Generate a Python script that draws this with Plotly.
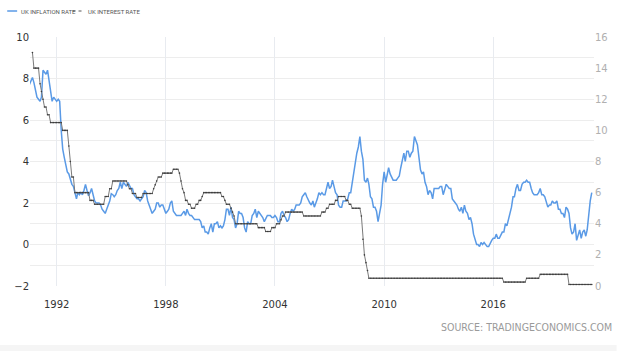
import pandas as pd
import plotly.graph_objects as go

# ---------------- data ----------------
inflation_start = "1990-07-01"
inflation = [
    7.7, 7.9, 8.05, 7.8, 7.4, 7.1,                                  # 1990 Jul-Dec
    7.0, 6.9, 7.1, 8.4, 8.3, 8.2, 8.4, 7.8, 7.3, 6.9, 7.1, 7.0,       # 1991
    6.9, 7.0, 6.9, 5.5, 4.6, 4.2, 3.8, 3.5, 3.4, 3.1, 2.9, 2.8,       # 1992
    2.5, 2.2, 2.5, 2.4, 2.5, 2.4, 2.6, 2.9, 2.6, 2.35, 2.5, 2.7,      # 1993
    2.4, 2.1, 2.0, 2.0, 2.0, 1.9, 1.7, 1.6, 1.5, 1.7, 1.9, 2.1,       # 1994
    2.45, 2.4, 2.3, 2.4, 2.6, 2.7, 3.0, 2.7, 3.0, 2.9, 2.8, 3.0,      # 1995
    2.8, 2.7, 2.7, 2.4, 2.3, 2.2, 2.2, 2.1, 2.2, 2.3, 2.6, 2.5,       # 1996
    2.1, 1.9, 1.7, 1.5, 1.6, 1.7, 2.0, 2.0, 1.8, 1.9, 1.9, 1.7,       # 1997
    1.5, 1.6, 1.7, 2.0, 2.1, 1.6, 1.5, 1.4, 1.4, 1.4, 1.4, 1.5,       # 1998
    1.6, 1.4, 1.7, 1.5, 1.4, 1.4, 1.3, 1.2, 1.2, 1.2, 1.2, 1.1,       # 1999
    0.8, 0.9, 0.6, 0.6, 0.5, 0.8, 1.0, 0.6, 1.0, 1.0, 1.1, 0.8,       # 2000
    0.9, 0.8, 0.9, 1.2, 1.7, 1.7, 1.4, 1.8, 1.3, 1.2, 0.8, 1.0,       # 2001
    1.6, 1.5, 1.5, 1.3, 0.8, 0.6, 1.1, 1.0, 1.0, 1.4, 1.5, 1.7,       # 2002
    1.3, 1.6, 1.5, 1.4, 1.3, 1.1, 1.3, 1.4, 1.4, 1.4, 1.3, 1.3,       # 2003
    1.4, 1.3, 1.1, 1.1, 1.5, 1.6, 1.4, 1.3, 1.1, 1.2, 1.5, 1.7,       # 2004
    1.6, 1.7, 1.9, 1.9, 1.9, 2.0, 2.3, 2.4, 2.5, 2.3, 2.1, 2.0,       # 2005
    1.9, 2.1, 1.8, 2.0, 2.2, 2.5, 2.4, 2.5, 2.4, 2.4, 2.7, 3.0,       # 2006
    2.7, 2.8, 3.1, 2.8, 2.5, 2.4, 1.9, 1.8, 1.8, 2.1, 2.1, 2.1,       # 2007
    2.2, 2.5, 2.5, 3.0, 3.3, 3.8, 4.4, 4.7, 5.2, 4.5, 4.1, 3.1,       # 2008
    3.0, 3.2, 2.9, 2.3, 2.2, 1.8, 1.8, 1.6, 1.1, 1.5, 1.9, 2.9,       # 2009
    3.5, 3.0, 3.4, 3.7, 3.4, 3.2, 3.1, 3.1, 3.1, 3.2, 3.3, 3.7,       # 2010
    4.0, 4.4, 4.0, 4.5, 4.5, 4.2, 4.4, 4.5, 5.2, 5.0, 4.8, 4.2,       # 2011
    3.6, 3.4, 3.5, 3.0, 2.8, 2.4, 2.6, 2.5, 2.2, 2.7, 2.7, 2.7,       # 2012
    2.7, 2.8, 2.8, 2.4, 2.7, 2.9, 2.8, 2.7, 2.7, 2.2, 2.1, 2.0,       # 2013
    1.9, 1.7, 1.6, 1.8, 1.5, 1.9, 1.6, 1.5, 1.2, 1.3, 1.0, 0.5,       # 2014
    0.3, 0.0, 0.0, -0.1, 0.1, 0.0, 0.1, 0.0, -0.1, -0.1, 0.1, 0.2,    # 2015
    0.3, 0.3, 0.5, 0.3, 0.3, 0.5, 0.6, 0.6, 1.0, 0.9, 1.2, 1.6,       # 2016
    1.8, 2.3, 2.3, 2.7, 2.9, 2.6, 2.6, 2.9, 3.0, 3.0, 3.1, 3.0,       # 2017
    3.0, 2.7, 2.5, 2.4, 2.4, 2.4, 2.5, 2.7, 2.4, 2.4, 2.3, 2.1,       # 2018
    1.8, 1.9, 1.9, 2.1, 2.0, 2.0, 2.1, 1.7, 1.7, 1.5, 1.5, 1.3,       # 2019
    1.8, 1.7, 1.5, 0.8, 0.5, 0.6, 1.0, 0.2, 0.5, 0.7, 0.3, 0.6,       # 2020
    0.7, 0.4, 0.7, 1.5, 2.1, 2.5,                                     # 2021 Jan-Jun
]

# Bank Rate: month in which a new level took effect, and that level
interest_change_months = [
    "1990-09", "1990-10", "1991-02", "1991-03", "1991-04", "1991-05", "1991-07",
    "1991-09", "1992-05", "1992-09", "1992-10", "1992-11", "1993-01", "1993-11",
    "1994-02", "1994-09", "1994-12", "1995-02", "1995-12", "1996-01", "1996-03",
    "1996-06", "1996-10", "1997-05", "1997-06", "1997-07", "1997-08", "1997-11",
    "1998-06", "1998-10", "1998-11", "1998-12", "1999-01", "1999-02", "1999-04",
    "1999-06", "1999-09", "1999-11", "2000-01", "2000-02", "2001-02", "2001-04",
    "2001-05", "2001-08", "2001-09", "2001-10", "2001-11", "2003-02", "2003-07",
    "2003-11", "2004-02", "2004-05", "2004-06", "2004-08", "2005-08", "2006-08",
    "2006-11", "2007-01", "2007-05", "2007-07", "2007-12", "2008-02", "2008-04",
    "2008-10", "2008-11", "2008-12", "2009-01", "2009-02", "2009-03", "2016-08",
    "2017-11", "2018-08", "2020-03",
]
interest_change_values = [
    15.0, 14.0, 13.0, 12.5, 12.0, 11.5, 11.0,
    10.5, 10.0, 9.0, 8.0, 7.0, 6.0, 5.5,
    5.25, 5.75, 6.25, 6.75, 6.5, 6.25, 5.94,
    5.69, 5.94, 6.25, 6.5, 6.75, 7.0, 7.25,
    7.5, 7.25, 6.75, 6.25, 6.0, 5.5, 5.25,
    5.0, 5.25, 5.5, 5.75, 6.0, 5.75, 5.5,
    5.25, 5.0, 4.75, 4.5, 4.0, 3.75, 3.5,
    3.75, 4.0, 4.25, 4.5, 4.75, 4.5, 4.75,
    5.0, 5.25, 5.5, 5.75, 5.5, 5.25, 5.0,
    4.5, 3.0, 2.0, 1.5, 1.0, 0.5, 0.25,
    0.5, 0.75, 0.1,
]
interest_last_month = "2021-06"

year_ticks = ["1992", "1998", "2004", "2010", "2016"]
left_ticks = [-2, 0, 2, 4, 6, 8, 10]
right_ticks = [0, 2, 4, 6, 8, 10, 12, 14, 16]

# ---------------- series ----------------
inf_dates = pd.date_range(inflation_start, periods=len(inflation), freq="MS")

steps = pd.Series(interest_change_values, index=pd.to_datetime(interest_change_months))
int_index = pd.date_range(steps.index[0], pd.to_datetime(interest_last_month), freq="MS")
interest = steps.reindex(int_index).ffill()

fig = go.Figure()
fig.add_trace(go.Scatter(
    x=inf_dates, y=inflation, mode="lines", name="UK INFLATION RATE",
    line=dict(color="#5a9ae6", width=1.5), yaxis="y"))
fig.add_trace(go.Scatter(
    x=interest.index, y=interest.values, mode="lines+markers", name="UK INTEREST RATE",
    line=dict(color="#7a7a7a", width=1), marker=dict(size=1.6, color="#3c3c3c"),
    yaxis="y2"))

grid = "#ededed"
fig.update_layout(
    width=620, height=351,
    margin=dict(l=30, r=20, t=37, b=65),
    paper_bgcolor="white", plot_bgcolor="white",
    showlegend=False,
    xaxis=dict(
        type="date", range=["1990-07-14", "2021-07-16"],
        tickvals=[f"{y}-01-01" for y in year_ticks], ticktext=year_ticks,
        showgrid=True, gridcolor="#e8ebf0", zeroline=False, showline=False,
        ticks="", ticklabelstandoff=11,
        tickfont=dict(family="DejaVu Sans", size=10, color="#333333"),
    ),
    yaxis=dict(
        range=[-2, 10], tickvals=left_ticks,
        showgrid=True, gridcolor=grid, zeroline=False, showline=False, ticks="",
        minor=dict(dtick=1, tick0=0, showgrid=True, gridcolor=grid),
        tickfont=dict(family="DejaVu Sans", size=10, color="#333333"),
    ),
    yaxis2=dict(
        range=[0, 16], tickvals=right_ticks, overlaying="y", side="right",
        showgrid=False, zeroline=False, showline=False, ticks="",
        tickfont=dict(family="DejaVu Sans", size=10, color="#b0b0b0"),
    ),
)

# legend drawn as small text items (top-left)
fig.add_shape(type="line", xref="paper", yref="paper", x0=-0.0404, x1=-0.0228,
              y0=1.1044, y1=1.1044, line=dict(color="#5a9ae6", width=1.5))
fig.add_shape(type="line", xref="paper", yref="paper", x0=0.0754, x1=0.0930,
              y0=1.1044, y1=1.1044, line=dict(color="#555555", width=1, dash="dot"))
fig.add_annotation(xref="paper", yref="paper", x=-0.0193, y=1.1044, xanchor="left",
                   yanchor="middle", showarrow=False, text="UK INFLATION RATE",
                   font=dict(family="Roboto", size=6, color="#555555"))
fig.add_annotation(xref="paper", yref="paper", x=0.1, y=1.1044, xanchor="left",
                   yanchor="middle", showarrow=False, text="UK INTEREST RATE",
                   font=dict(family="Roboto", size=6, color="#555555"))

fig.add_annotation(xref="paper", yref="paper", x=1.035, y=-0.1647, xanchor="right",
                   yanchor="middle", showarrow=False, text="SOURCE: TRADINGECONOMICS.COM",
                   font=dict(family="DejaVu Sans Condensed, DejaVu Sans", size=10.5,
                             color="#9a9a9a"))

# faint footer band at the very bottom of the image
fig.add_shape(type="rect", xref="paper", yref="paper", x0=-0.06, x1=1.04,
              y0=-0.262, y1=-0.237, fillcolor="#f5f5f5", line=dict(width=0), layer="below")

fig.write_html("out.html")
